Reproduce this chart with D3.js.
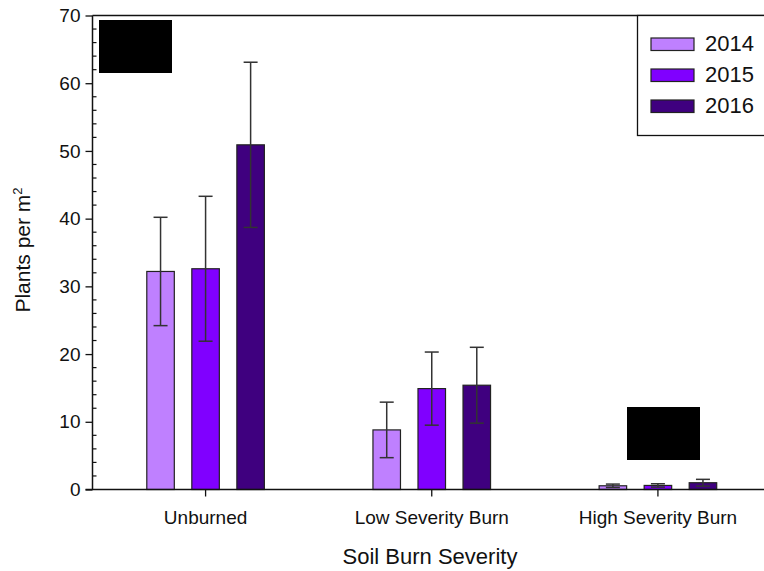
<!DOCTYPE html>
<html>
<head>
<meta charset="utf-8">
<script src="https://cdn.jsdelivr.net/npm/d3@7"></script>
<style>
html,body{margin:0;padding:0;background:#fff;}
svg{display:block;font-family:"Liberation Sans",Arial,sans-serif;}
</style>
</head>
<body>
<svg id="chart" width="764" height="571"></svg>
<script>
const categories = ["Unburned", "Low Severity Burn", "High Severity Burn"];
const years = ["2014", "2015", "2016"];
const values2014 = [32.2, 8.8, 0.55];
const values2015 = [32.6, 14.9, 0.6];
const values2016 = [50.9, 15.4, 1.0];
const errors2014 = [8.0, 4.1, 0.25];
const errors2015 = [10.7, 5.4, 0.25];
const errors2016 = [12.2, 5.6, 0.5];
const colors = ["#BF80FF", "#8000FF", "#3F007F"];
const yTicks = [0, 10, 20, 30, 40, 50, 60, 70];

const seriesValues = [values2014, values2015, values2016];
const seriesErrors = [errors2014, errors2015, errors2016];

const svg = d3.select("#chart");
const pLeft = 92.5, pTop = 15.5, pBottom = 489.5, pRight = 771;

const x = d3.scaleBand().domain(categories).range([pLeft, pRight]).padding(0);
const xs = d3.scaleBand().domain(years).range([0, x.bandwidth() * 135 / 226])
  .paddingInner(0.389).paddingOuter(0.1945);
const y = d3.scaleLinear().domain([0, 70]).range([pBottom, pTop]);

const data = [];
categories.forEach((c, i) => {
  years.forEach((yr, j) => {
    data.push({cat: c, year: yr, v: seriesValues[j][i], e: seriesErrors[j][i], color: colors[j]});
  });
});
const groupOffset = (x.bandwidth() - xs.range()[1]) / 2;

// bars
svg.append("g").selectAll("rect").data(data).join("rect")
  .attr("x", d => x(d.cat) + groupOffset + xs(d.year))
  .attr("y", d => y(d.v))
  .attr("width", xs.bandwidth())
  .attr("height", d => y(0) - y(d.v))
  .attr("fill", d => d.color)
  .attr("stroke", "#222")
  .attr("stroke-width", 1.2);

// error bars
const eg = svg.append("g").attr("stroke", "#333").attr("stroke-width", 1.5);
data.forEach(d => {
  const cx = x(d.cat) + groupOffset + xs(d.year) + xs.bandwidth() / 2;
  eg.append("line").attr("x1", cx).attr("x2", cx).attr("y1", y(d.v - d.e)).attr("y2", y(d.v + d.e));
  [d.v - d.e, d.v + d.e].forEach(t => {
    eg.append("line").attr("x1", cx - 7).attr("x2", cx + 7).attr("y1", y(t)).attr("y2", y(t));
  });
});

// y axis
const yAxis = d3.axisLeft(y).tickValues(yTicks).tickSize(7).tickPadding(5).tickFormat(d3.format("d"));
const yg = svg.append("g").attr("transform", `translate(${pLeft},0)`).call(yAxis);
yg.select(".domain").remove();
yg.selectAll("text").attr("font-size", 19).attr("font-family", "Liberation Sans, Arial, sans-serif").attr("fill", "#111");
yg.selectAll("line").attr("stroke", "#111").attr("stroke-width", 1.3);
// minor ticks (inside)
const minor = d3.range(0, 70.01, 2).filter(v => v % 10 !== 0);
svg.append("g").selectAll("line").data(minor).join("line")
  .attr("x1", pLeft).attr("x2", pLeft + 4)
  .attr("y1", d => y(d)).attr("y2", d => y(d))
  .attr("stroke", "#111").attr("stroke-width", 1.2);

// frame lines
svg.append("line").attr("x1", pLeft).attr("x2", pLeft).attr("y1", pTop).attr("y2", pBottom).attr("stroke", "#111").attr("stroke-width", 1.5);
svg.append("line").attr("x1", pLeft).attr("x2", 764).attr("y1", pTop).attr("y2", pTop).attr("stroke", "#111").attr("stroke-width", 1.5);

// x axis
const xAxis = d3.axisBottom(x).tickSize(7).tickPadding(14);
const xg = svg.append("g").attr("transform", `translate(0,${pBottom})`).call(xAxis);
xg.select(".domain").remove();
xg.selectAll("line").attr("stroke", "#111").attr("stroke-width", 1.3);
xg.selectAll("text").attr("font-size", 19).attr("font-family", "Liberation Sans, Arial, sans-serif").attr("fill", "#111");
svg.append("line").attr("x1", pLeft - 7).attr("x2", 764).attr("y1", pBottom).attr("y2", pBottom).attr("stroke", "#111").attr("stroke-width", 1.5);

// axis titles
svg.append("text").attr("x", 430).attr("y", 564).attr("text-anchor", "middle")
  .attr("font-size", 22).attr("fill", "#111").text("Soil Burn Severity");
const yl = svg.append("text").attr("transform", "translate(30,250) rotate(-90)").attr("text-anchor", "middle")
  .attr("font-size", 21).attr("fill", "#111");
yl.append("tspan").text("Plants per m");
yl.append("tspan").attr("font-size", 13).attr("dy", -8).text("2");

// legend
const lg = svg.append("g");
lg.append("rect").attr("x", 637.5).attr("y", pTop).attr("width", 140).attr("height", 120)
  .attr("fill", "#fff").attr("stroke", "#111").attr("stroke-width", 1.3);
years.forEach((yr, j) => {
  const yy = 38 + j * 31;
  lg.append("rect").attr("x", 651).attr("y", yy).attr("width", 43).attr("height", 12.5)
    .attr("fill", colors[j]).attr("stroke", "#222").attr("stroke-width", 1.2);
  lg.append("text").attr("x", 705).attr("y", yy + 13).attr("font-size", 22).attr("fill", "#111").text(yr);
});

// redaction boxes
svg.append("rect").attr("x", 99).attr("y", 20).attr("width", 73).attr("height", 53).attr("fill", "#000");
svg.append("rect").attr("x", 627).attr("y", 407).attr("width", 73).attr("height", 53).attr("fill", "#000");
</script>
</body>
</html>
